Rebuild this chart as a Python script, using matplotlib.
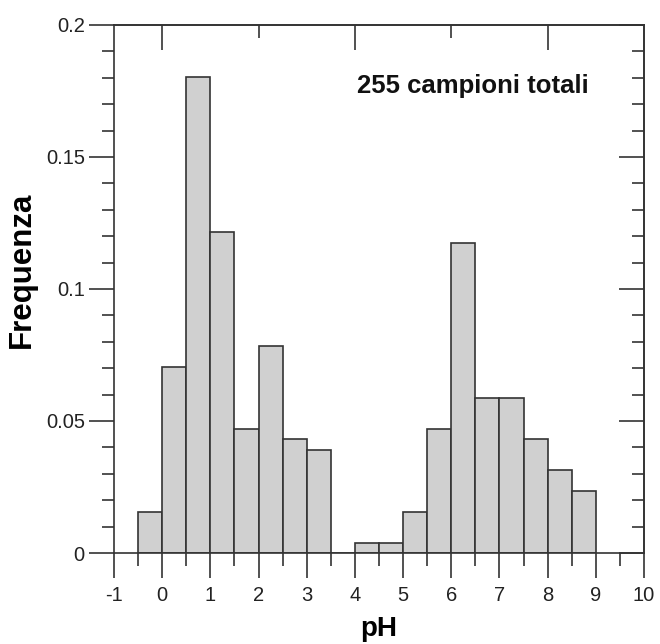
import matplotlib
matplotlib.use("Agg")
import matplotlib.pyplot as plt
from matplotlib.ticker import MultipleLocator, FixedLocator

plt.rcParams['font.family'] = ['Liberation Sans', 'DejaVu Sans']
plt.rcParams['axes.unicode_minus'] = False

# histogram of pH, bins 0.5 wide
bin_left = [-0.5, 0.0, 0.5, 1.0, 1.5, 2.0, 2.5, 3.0, 3.5, 4.0,
            4.5, 5.0, 5.5, 6.0, 6.5, 7.0, 7.5, 8.0, 8.5]
freq = [0.0157, 0.0706, 0.1804, 0.1216, 0.0471, 0.0784, 0.0431, 0.0392, 0.0, 0.0039,
        0.0039, 0.0157, 0.0471, 0.1176, 0.0588, 0.0588, 0.0431, 0.0314, 0.0235]
yticks = [0, 0.05, 0.1, 0.15, 0.2]
ylabels = ['0', '0.05', '0.1', '0.15', '0.2']
note = "255 campioni totali"

fig = plt.figure(figsize=(6.6, 6.44), dpi=100)
ax = fig.add_axes([0.1727, 0.1413, 0.8031, 0.8199])

ax.bar(bin_left, freq, width=0.5, align='edge', color='#d0d0d0',
       edgecolor='#333333', linewidth=1.2)

ax.set_xlim(-1, 10)
ax.set_ylim(0, 0.2)

ax.xaxis.set_major_locator(MultipleLocator(1))
ax.xaxis.set_minor_locator(MultipleLocator(0.5))
ax.set_yticks(yticks)
ax.set_yticklabels(ylabels)
ax.yaxis.set_minor_locator(MultipleLocator(0.01))

ax.tick_params(which='both', direction='out', top=False, right=False,
               width=1.2, color='#333333', labelsize=14.5, labelcolor='#222222')
ax.tick_params(which='major', length=18)
ax.tick_params(which='minor', length=9)
ax.tick_params(axis='y', pad=3)
ax.tick_params(axis='x', pad=6)

# top axis: ticks inward every 2
top = ax.secondary_xaxis('top')
top.xaxis.set_major_locator(FixedLocator([0, 4, 8]))
top.xaxis.set_minor_locator(FixedLocator([2, 6]))
top.tick_params(which='both', direction='in', labeltop=False, width=1.2, color='#333333')
top.tick_params(which='major', length=18)
top.tick_params(which='minor', length=9)

# right axis: ticks inward
right = ax.secondary_yaxis('right')
right.yaxis.set_major_locator(MultipleLocator(0.05))
right.yaxis.set_minor_locator(MultipleLocator(0.01))
right.tick_params(which='both', direction='in', labelright=False, width=1.2, color='#333333')
right.tick_params(which='major', length=18)
right.tick_params(which='minor', length=9)

for a in (ax, top, right):
    for s in a.spines.values():
        s.set_linewidth(1.2)
        s.set_color('#333333')

ax.set_xlabel('pH', fontsize=20, fontweight='bold', labelpad=8)
ax.set_ylabel('Frequenza', fontsize=22.5, fontweight='bold')
ax.yaxis.set_label_coords(-0.145, 0.536)

ax.text(6.45, 0.177, note, fontsize=18.5, fontweight='bold', ha='center', va='center',
        color='#111111')

fig.savefig('out.png', dpi=100)
